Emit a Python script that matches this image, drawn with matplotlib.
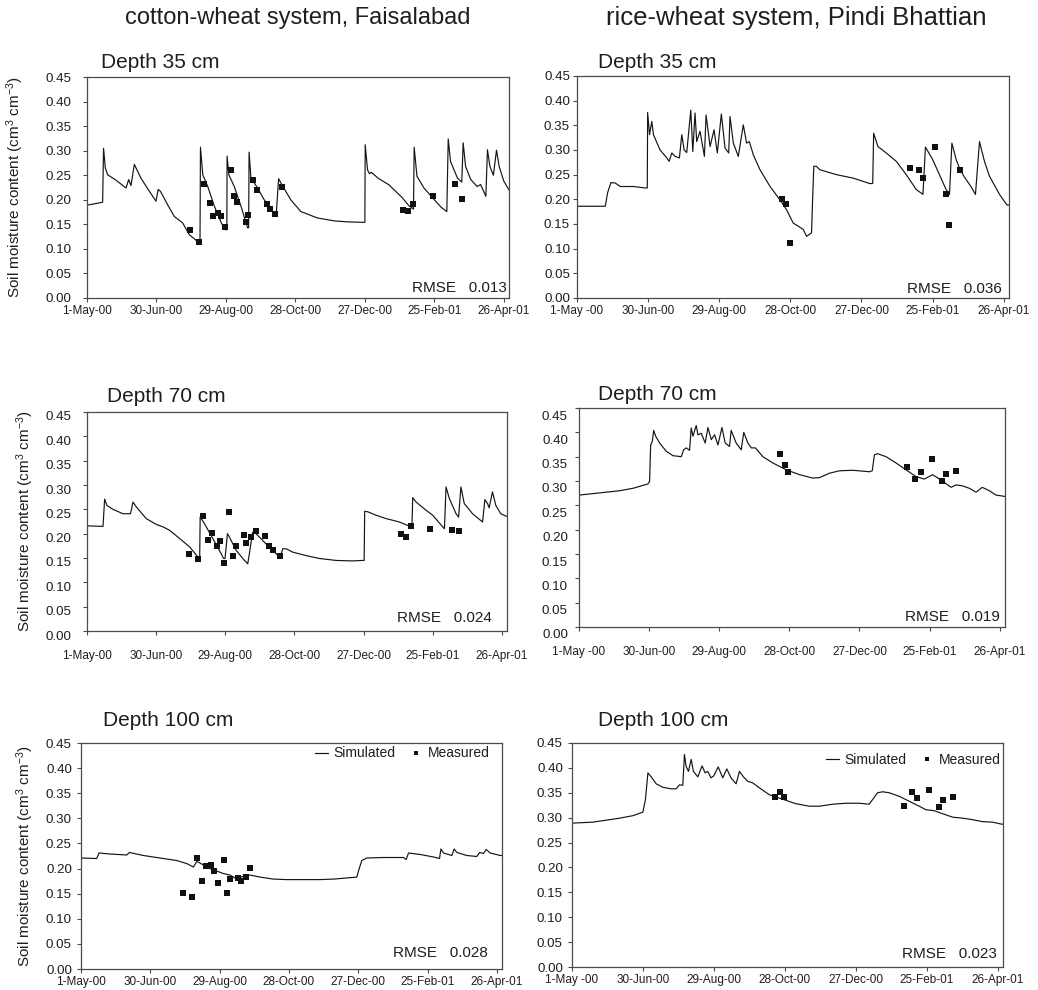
import numpy as np
import matplotlib
matplotlib.use("Agg")
import matplotlib.pyplot as plt
from matplotlib.transforms import ScaledTranslation

plt.rcParams["font.family"] = ["Liberation Sans", "DejaVu Sans"]
plt.rcParams["mathtext.fontset"] = "custom"
plt.rcParams["mathtext.rm"] = "Liberation Sans"
plt.rcParams["mathtext.it"] = "Liberation Sans:italic"
plt.rcParams["mathtext.bf"] = "Liberation Sans:bold"

W, H = 1038, 990
DPI = 100

# x axis: days since 1 May 2000
tick_days = [0, 60, 120, 180, 240, 300, 360]
left_tick_labels = ["1-May-00", "30-Jun-00", "29-Aug-00", "28-Oct-00",
                    "27-Dec-00", "25-Feb-01", "26-Apr-01"]
right_tick_labels = ["1-May -00", "30-Jun-00", "29-Aug-00", "28-Oct-00",
                     "27-Dec-00", "25-Feb-01", "26-Apr-01"]
y_ticks = [0.00, 0.05, 0.10, 0.15, 0.20, 0.25, 0.30, 0.35, 0.40, 0.45]

column_titles = ["cotton-wheat system, Faisalabad", "rice-wheat system, Pindi Bhattian"]
depth_titles = ["Depth 35 cm", "Depth 70 cm", "Depth 100 cm"]
rmse_values = [["0.013", "0.036"], ["0.024", "0.019"], ["0.028", "0.023"]]

# ---- Faisalabad, 35 cm ----
fsd35_sim_day = [0, 13.5, 14.3, 15.8, 17.8, 25, 33.7, 36, 38, 40.9, 46.6, 52, 59.6, 61.5, 63.5,
                 69.6, 75.4, 82.6, 88.3, 95.5, 97.6, 98, 100, 104.3, 110, 116, 119.5, 120.8, 121,
                 122.5, 127.2, 133, 138.7, 139.6, 140, 141.6, 147.4, 153, 158.8, 162.3, 163.5,
                 165.5, 167.5, 176, 184.7, 199, 213.5, 225, 240, 240.3, 242.3, 244, 245.5, 252,
                 260.5, 272, 278, 282, 282.6, 285, 291, 300, 305.8, 310.8, 312, 314, 320, 323.7,
                 324.9, 327, 331.5, 337, 340, 344.5, 345.9, 348, 351, 353.7, 356, 360, 364.5]
fsd35_sim_val = [0.189, 0.195, 0.305, 0.265, 0.251, 0.240, 0.224, 0.241, 0.229, 0.272, 0.244,
                 0.224, 0.197, 0.221, 0.217, 0.190, 0.166, 0.153, 0.129, 0.115, 0.115, 0.307,
                 0.251, 0.227, 0.187, 0.153, 0.139, 0.139, 0.289, 0.251, 0.227, 0.187, 0.143,
                 0.143, 0.297, 0.244, 0.224, 0.200, 0.183, 0.166, 0.172, 0.243, 0.234, 0.200,
                 0.176, 0.163, 0.157, 0.155, 0.154, 0.312, 0.261, 0.253, 0.256, 0.243, 0.231,
                 0.205, 0.188, 0.181, 0.307, 0.248, 0.224, 0.200, 0.185, 0.176, 0.324, 0.278,
                 0.244, 0.236, 0.316, 0.268, 0.241, 0.227, 0.231, 0.207, 0.302, 0.268, 0.250,
                 0.301, 0.268, 0.238, 0.220]
fsd35_obs_day = [89.2, 97, 101, 106.2, 108.8, 113.1, 115.7, 119.4, 124, 126.9, 129.8, 137.3,
                 139, 143, 147, 155.1, 158.3, 162, 168.3, 273.1, 277.1, 282, 298.7, 318, 323.7]
fsd35_obs_val = [0.139, 0.114, 0.233, 0.194, 0.166, 0.173, 0.166, 0.144, 0.261, 0.208, 0.196,
                 0.155, 0.170, 0.241, 0.220, 0.191, 0.182, 0.172, 0.227, 0.179, 0.178, 0.191,
                 0.208, 0.232, 0.202]

# ---- Pindi Bhattian, 35 cm ----
pb35_sim_day = [0, 23.9, 25.8, 28.6, 32.3, 36.5, 47.7, 57.5, 59.3, 59.6, 61.2, 63.1, 64.5, 70.1,
                75.8, 77.7, 80, 82.8, 86.4, 88.4, 90.4, 92.6, 96, 97.7, 99.6, 101, 103.8, 107.5,
                108.9, 112.3, 115.6, 118.4, 121.8, 124.9, 128, 129.1, 131.9, 136.1, 140.3, 143.1,
                145.4, 148.8, 154.4, 162.9, 171.2, 176.8, 182.4, 190.9, 193.7, 197.9, 198.7,
                199.8, 202, 204.9, 219, 233, 247, 249.5, 250.3, 253.9, 260.9, 269.4, 277.8,
                286.2, 291.9, 294, 300.2, 305.8, 311.4, 314.3, 316.3, 320, 322.8, 326.4, 332.6,
                336.2, 339.6, 343.8, 348, 356.5, 362.6, 364.5]
pb35_sim_val = [0.186, 0.186, 0.213, 0.234, 0.233, 0.226, 0.226, 0.223, 0.223, 0.376, 0.331,
                0.358, 0.331, 0.300, 0.284, 0.277, 0.294, 0.287, 0.284, 0.331, 0.300, 0.295,
                0.381, 0.297, 0.375, 0.317, 0.338, 0.287, 0.371, 0.307, 0.341, 0.294, 0.373,
                0.304, 0.294, 0.368, 0.314, 0.287, 0.351, 0.314, 0.317, 0.290, 0.260, 0.226,
                0.199, 0.179, 0.152, 0.139, 0.125, 0.132, 0.193, 0.267, 0.267, 0.260, 0.250,
                0.243, 0.232, 0.232, 0.334, 0.307, 0.294, 0.277, 0.250, 0.220, 0.210, 0.306,
                0.280, 0.250, 0.220, 0.210, 0.314, 0.280, 0.263, 0.247, 0.225, 0.210, 0.317,
                0.277, 0.247, 0.210, 0.189, 0.188]
pb35_obs_day = [172.6, 176, 179.3, 281.2, 288.2, 292.2, 302, 311.5, 314, 323.3]
pb35_obs_val = [0.201, 0.191, 0.112, 0.263, 0.260, 0.243, 0.307, 0.211, 0.147, 0.260]

# ---- Faisalabad, 70 cm ----
fsd70_sim_day = [0, 13.9, 15.3, 17.3, 22.5, 31.2, 37.8, 39.9, 42.8, 51.4, 60.1, 65.9, 71.7, 80.4,
                 89, 96.3, 97.8, 98.2, 101.1, 109.2, 116.4, 118.5, 119.8, 121.9, 123.6, 129.4,
                 135.2, 139.5, 143.8, 146.7, 155.4, 164, 167.6, 169.9, 172.8, 178.6, 190.1,
                 201.7, 216.1, 230.6, 239.2, 240.5, 241, 243.6, 250.8, 259.5, 271.1, 278.2, 282,
                 282.7, 285.6, 294.3, 300, 310.2, 311.6, 314.5, 320.3, 322.5, 324.5, 327.4,
                 334.6, 343.3, 345.3, 347.6, 349, 351.9, 354.8, 359.1, 363.6, 364.5]
fsd70_sim_val = [0.216, 0.215, 0.271, 0.258, 0.250, 0.241, 0.241, 0.265, 0.255, 0.231, 0.219,
                 0.214, 0.207, 0.190, 0.173, 0.152, 0.150, 0.234, 0.224, 0.190, 0.159, 0.149,
                 0.149, 0.200, 0.193, 0.166, 0.149, 0.138, 0.203, 0.200, 0.179, 0.159, 0.152,
                 0.169, 0.169, 0.162, 0.155, 0.149, 0.145, 0.144, 0.145, 0.145, 0.246, 0.245,
                 0.238, 0.231, 0.224, 0.217, 0.215, 0.274, 0.265, 0.248, 0.238, 0.210, 0.296,
                 0.272, 0.241, 0.234, 0.296, 0.262, 0.241, 0.224, 0.270, 0.262, 0.253, 0.286,
                 0.258, 0.241, 0.236, 0.236]
fsd70_obs_day = [88.7, 96.5, 100.5, 105.2, 108.1, 112.4, 115.3, 118.8, 123.4, 126.3, 129.4,
                 136.4, 138.4, 142.4, 146.5, 154.6, 157.7, 161.5, 167.6, 272.5, 276.5, 281.1,
                 297.9, 316.4, 323]
fsd70_obs_val = [0.158, 0.148, 0.236, 0.186, 0.201, 0.175, 0.184, 0.140, 0.245, 0.154, 0.175,
                 0.197, 0.181, 0.193, 0.205, 0.196, 0.175, 0.167, 0.154, 0.199, 0.193, 0.216,
                 0.210, 0.208, 0.205]

# ---- Pindi Bhattian, 70 cm ----
pb70_sim_day = [0, 34.8, 46.2, 59, 60.4, 61.3, 62.7, 63.9, 65.6, 69, 74.7, 80.4, 87.5, 89.5, 91.8,
                94.6, 96, 97.5, 100.3, 101.8, 104.6, 108, 110.3, 113.2, 116, 118.9, 122.3, 125.1,
                128.8, 130.2, 134.5, 138.8, 141, 144.5, 147.4, 151, 157.3, 165.9, 177.3, 188.7,
                200, 205.8, 214.3, 222.9, 234.3, 248.6, 250.9, 252.8, 255.6, 262.7, 271.3,
                279.8, 288.4, 295.5, 302.6, 309.7, 318.4, 322.6, 328.3, 334, 339.8, 345, 351.1,
                356.8, 362.6, 364.5]
pb70_sim_val = [0.271, 0.280, 0.285, 0.294, 0.299, 0.374, 0.381, 0.404, 0.392, 0.378, 0.361,
                0.352, 0.350, 0.364, 0.368, 0.363, 0.409, 0.392, 0.414, 0.395, 0.398, 0.378,
                0.410, 0.385, 0.395, 0.374, 0.410, 0.378, 0.371, 0.404, 0.378, 0.364, 0.400,
                0.378, 0.368, 0.368, 0.350, 0.337, 0.323, 0.313, 0.306, 0.307, 0.316, 0.321,
                0.322, 0.319, 0.321, 0.354, 0.356, 0.350, 0.337, 0.323, 0.309, 0.304, 0.313,
                0.302, 0.287, 0.292, 0.290, 0.285, 0.277, 0.287, 0.280, 0.271, 0.269, 0.268]
pb70_obs_day = [171.9, 175.9, 179, 280.8, 287.9, 292.2, 302.2, 310.7, 314.1, 323]
pb70_obs_val = [0.356, 0.333, 0.318, 0.328, 0.304, 0.318, 0.346, 0.301, 0.315, 0.320]

# ---- Faisalabad, 100 cm ----
fsd100_sim_day = [0, 13.6, 15.6, 25, 39.6, 41.9, 54, 68.4, 82.9, 91.5, 97.3, 100.2, 103.1, 110.3,
                  117.5, 123.3, 129.1, 134.9, 140.7, 146.4, 155.1, 166.6, 178.2, 189.7, 207,
                  218.6, 238.8, 240.2, 243.1, 247.4, 261.9, 279.2, 281.5, 283.6, 293.7, 305.3,
                  310.4, 311.6, 313.9, 321.1, 323.1, 325.4, 334.1, 342.7, 345.1, 348.5, 350.8,
                  354.3, 363, 364.5]
fsd100_sim_val = [0.221, 0.220, 0.231, 0.229, 0.227, 0.232, 0.226, 0.221, 0.216, 0.210, 0.203,
                  0.214, 0.211, 0.201, 0.195, 0.190, 0.187, 0.179, 0.185, 0.187, 0.183, 0.179,
                  0.178, 0.178, 0.178, 0.179, 0.183, 0.195, 0.216, 0.221, 0.222, 0.222, 0.218,
                  0.231, 0.228, 0.223, 0.220, 0.239, 0.231, 0.226, 0.239, 0.232, 0.226, 0.224,
                  0.232, 0.230, 0.238, 0.231, 0.226, 0.226]
fsd100_obs_day = [88.7, 96.4, 100.5, 105.1, 108.6, 112.3, 115.5, 118.7, 123.6, 126.5, 129.1,
                  136.3, 138.3, 142.6, 146.7]
fsd100_obs_val = [0.152, 0.144, 0.222, 0.175, 0.205, 0.208, 0.195, 0.171, 0.218, 0.151, 0.179,
                  0.181, 0.176, 0.184, 0.201]

# ---- Pindi Bhattian, 100 cm ----
pb100_sim_day = [0, 17.7, 40.3, 51.5, 59.9, 62.1, 64.2, 67, 71.2, 76.8, 83.8, 88.1, 90.9, 93.7,
                 95.1, 96.5, 98.5, 100.8, 102.7, 106.4, 110, 112.6, 114.8, 117.6, 119.9, 123.6,
                 127.5, 130.9, 134.5, 138.8, 141.6, 145, 148.6, 152.8, 158.4, 166.9, 178.2,
                 189.4, 200.7, 209.1, 220.4, 231.7, 243, 251.3, 254.1, 258.4, 262.7, 268.3,
                 276.7, 285.2, 293.6, 299.3, 306.3, 313.4, 321.9, 330.3, 338.7, 347.2, 355.6,
                 363.2, 364.5]
pb100_sim_val = [0.289, 0.291, 0.299, 0.304, 0.311, 0.336, 0.390, 0.382, 0.368, 0.361, 0.358,
                 0.358, 0.366, 0.365, 0.427, 0.403, 0.393, 0.417, 0.393, 0.382, 0.404, 0.390,
                 0.393, 0.380, 0.384, 0.402, 0.380, 0.398, 0.380, 0.368, 0.393, 0.382, 0.373,
                 0.370, 0.360, 0.346, 0.337, 0.328, 0.323, 0.323, 0.327, 0.329, 0.329, 0.327,
                 0.336, 0.350, 0.352, 0.350, 0.343, 0.333, 0.323, 0.316, 0.314, 0.308, 0.301,
                 0.299, 0.296, 0.292, 0.291, 0.287, 0.287]
pb100_obs_day = [171.4, 175.6, 179, 280.9, 287.6, 291.6, 301.7, 310.4, 313.5, 322.3]
pb100_obs_val = [0.341, 0.352, 0.342, 0.324, 0.352, 0.340, 0.356, 0.321, 0.336, 0.341]


def px_rect(left, top, right, bottom):
    return [left / W, 1 - bottom / H, (right - left) / W, (bottom - top) / H]


panels = [
    # (row, col, rect, sim_day, sim_val, obs_day, obs_val, ytick pad, ytick shift px)
    (0, 0, px_rect(87, 77, 509, 298), fsd35_sim_day, fsd35_sim_val, fsd35_obs_day, fsd35_obs_val, 8.0, 0),
    (0, 1, px_rect(577, 76, 1009, 298), pb35_sim_day, pb35_sim_val, pb35_obs_day, pb35_obs_val, 2.0, 0),
    (1, 0, px_rect(87, 412, 507, 631), fsd70_sim_day, fsd70_sim_val, fsd70_obs_day, fsd70_obs_val, 8.0, 4),
    (1, 1, px_rect(579, 408, 1005, 627), pb70_sim_day, pb70_sim_val, pb70_obs_day, pb70_obs_val, 5.0, 7),
    (2, 0, px_rect(81, 743, 502, 969), fsd100_sim_day, fsd100_sim_val, fsd100_obs_day, fsd100_obs_val, 3.5, 0),
    (2, 1, px_rect(572, 743, 1003, 967), pb100_sim_day, pb100_sim_val, pb100_obs_day, pb100_obs_val, 3.5, 0),
]

ylabel_x = {0: -0.145, 1: -0.122, 2: -0.108}
depth_title_pos = {(0, 0): (101, 62), (0, 1): (598, 62), (1, 0): (107, 396),
                   (1, 1): (598, 395), (2, 0): (103, 720), (2, 1): (598, 720)}
rmse_pos = {(0, 0): (507, 292), (0, 1): (1002, 293), (1, 0): (492, 622),
            (1, 1): (1000, 621), (2, 0): (488, 957), (2, 1): (997, 958)}
legend_anchor = {0: (0.972, 0.985), 1: (0.995, 0.955)}

text_color = "#1e1e1e"
line_color = "#151515"
spine_color = "#4a4a4a"

fig = plt.figure(figsize=(W / DPI, H / DPI), dpi=DPI)

for row, col, rect, sd, sv, od, ov, ypad, yshift in panels:
    ax = fig.add_axes(rect)
    ax.plot(sd, sv, color=line_color, lw=0.85, label="Simulated")
    ax.plot(od, ov, "s", color="#111111", ms=4.0, mew=0, label="Measured")
    ax.set_xlim(0, 364.5)
    ax.set_ylim(0, 0.45)
    ax.set_xticks(tick_days)
    ax.set_xticklabels(left_tick_labels if col == 0 else right_tick_labels)
    ax.set_yticks(y_ticks)
    ax.set_yticklabels([f"{v:.2f}" for v in y_ticks])
    xpad = 11.0 if row == 1 else 2.0
    ax.tick_params(axis="x", direction="out", length=3, width=0.8, color=spine_color,
                   labelsize=8.5, labelcolor=text_color, pad=xpad)
    ax.tick_params(axis="y", direction="out", length=3, width=0.8, color=spine_color,
                   labelsize=9.6, labelcolor=text_color, pad=ypad)
    for sp in ax.spines.values():
        sp.set_color(spine_color)
        sp.set_linewidth(0.9)
    if yshift:
        offset = ScaledTranslation(0, -yshift / DPI, fig.dpi_scale_trans)
        for lab in ax.get_yticklabels():
            lab.set_transform(lab.get_transform() + offset)
    if col == 0:
        ax.set_ylabel("Soil moisture content (cm$^{3}$ cm$^{-3}$)", fontsize=11, color=text_color)
        ax.yaxis.set_label_coords(ylabel_x[row], 0.5)
    if row == 2:
        ax.legend(loc="upper right", bbox_to_anchor=legend_anchor[col], ncol=2, frameon=False,
                  fontsize=10, handlelength=0.95, handletextpad=0.4, columnspacing=1.0,
                  borderpad=0, borderaxespad=0, numpoints=1, markerscale=0.85,
                  labelcolor=text_color)
    tx, ty = depth_title_pos[(row, col)]
    fig.text(tx / W, 1 - ty / H, depth_titles[row], fontsize=15, color=text_color,
             ha="left", va="center")
    rx, ry = rmse_pos[(row, col)]
    fig.text(rx / W, 1 - ry / H, "RMSE   " + rmse_values[row][col], fontsize=11,
             color=text_color, ha="right", va="baseline")

fig.text(298 / W, 1 - 18 / H, column_titles[0], fontsize=17, color=text_color,
         ha="center", va="center")
fig.text(796 / W, 1 - 18 / H, column_titles[1], fontsize=18.5, color=text_color,
         ha="center", va="center")

fig.savefig("out.png", dpi=DPI)
